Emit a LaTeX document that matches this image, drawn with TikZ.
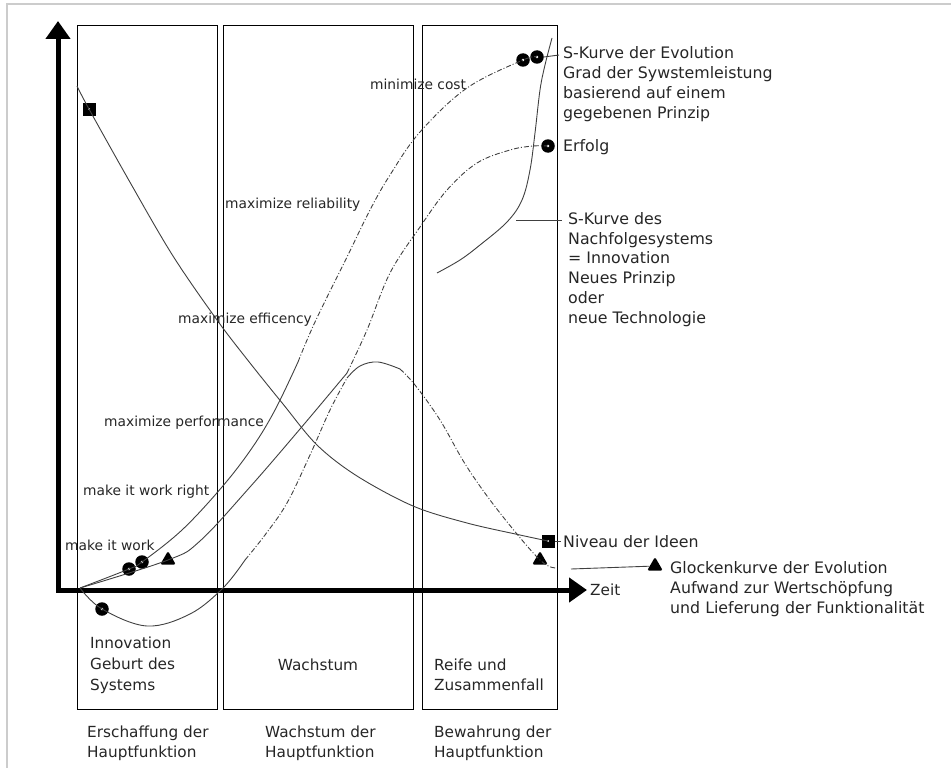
\documentclass[tikz,border=0pt]{standalone}
\usepackage{fontspec}
\setmainfont{DejaVu Sans}
\usetikzlibrary{arrows.meta,shapes.geometric}

\begin{document}
\begin{tikzpicture}[x=1pt,y=-1pt,
    phase/.style={draw, line width=1pt},
    axis/.style={line width=5pt, line cap=rect, -{Triangle[length=18pt,width=24pt]}},
    curve/.style={line width=0.9pt, black!75},
    dcurve/.style={curve, dash pattern=on 5pt off 2pt on 1pt off 2pt},
    ring/.style={circle, fill=black, inner sep=0pt, minimum size=13.5pt,
        path picture={\fill[white] (path picture bounding box.center) circle (1.4pt);}},
    tri/.style={regular polygon, regular polygon sides=3, fill=black, inner sep=0pt, minimum size=18pt, rounded corners=1.5pt},
    sq/.style={rectangle, fill=black, inner sep=0pt, minimum size=13pt,
        path picture={\fill[white] (path picture bounding box.center) circle (1pt);}},
    big/.style={font=\fontsize{15.8}{19.7}\selectfont, align=left, inner sep=0pt, text=black!85, anchor=base west},
    low/.style={font=\fontsize{15.3}{20}\selectfont, align=left, inner sep=0pt, text=black!85, anchor=base west},
    small/.style={font=\fontsize{13.8}{17}\selectfont, inner sep=0pt, text=black!85, anchor=base west}]
    \useasboundingbox (0,0) rectangle (951,768);
    \draw[black!20, line width=1.5pt] (7,768) -- (7,4) -- (951,4);

    % three phases
    \draw[phase] (77,26) rectangle (217,709);
    \draw[phase] (223,26) rectangle (413,709);
    \draw[phase] (422,26) rectangle (557,709);

    % axes
    \coordinate (O) at (58,590);
    \coordinate (ytip) at (58,21);
    \coordinate (xtip) at (587,590);
    \draw[axis] (O) -- (ytip);
    \draw[axis] (O) -- (xtip);
    \node[low] (zeit) at (590,595) {Zeit};

    % markers
    \node[ring] (c1) at (129,569) {};
    \node[ring] (c2) at (142,562) {};
    \node[ring] (c3) at (523,60) {};
    \node[ring] (c4) at (537,57) {};
    \node[ring] (erf) at (548,146) {};
    \node[ring] (b0) at (102,609) {};
    \node[tri] (t1) at (168,560) {};
    \node[tri] (t2) at (540,560) {};
    \node[tri] (t3) at (655,566) {};
    \node[sq] (s1) at (89,109) {};
    \node[sq] (s2) at (548,541) {};

    % S-Kurve der Evolution
    \draw[curve] plot[smooth, tension=0.6] coordinates {(80,588) (c1.center) (c2.center) (182,530) (222,487) (252,448) (275,410) (298,362)};
    \draw[dcurve] plot[smooth, tension=0.6] coordinates {(298,362) (315,322) (347,257) (370,210) (390,175) (420,132) (467,88) (c3.center) (c4.center)};
    % Erfolg
    \draw[curve] plot[smooth, tension=0.6] coordinates {(80,588) (t1.center) (200,541) (250,487) (300,429) (347,373)};
    \draw[dcurve] plot[smooth, tension=0.6] coordinates {(347,373) (367,330) (390,273) (420,227) (447,190) (477,163) (510,150) (533,146) (erf.center)};
    % Glockenkurve
    \draw[curve] plot[smooth, tension=0.6] coordinates {(80,588) (b0.center) (147,626) (190,614) (223,588) (245,560)};
    \draw[dcurve] plot[smooth, tension=0.6] coordinates {(245,560) (265,535) (287,503) (310,455) (330,410) (347,378)};
    \draw[curve] plot[smooth, tension=0.6] coordinates {(347,378) (360,366) (378,362) (400,369)};
    \draw[dcurve] plot[smooth, tension=0.6] coordinates {(400,369) (415,385) (440,420) (467,467) (500,513) (t2.center) (557,568)};
    % Niveau der Ideen
    \draw[curve] plot[smooth, tension=0.55] coordinates {(77,86) (s1.center) (131,184) (173,256) (217,320) (250,363) (283,404) (317,445) (357,476) (413,506) (467,523) (520,535) (s2.center)};
    % Nachfolgesystem
    \draw[curve] plot[smooth, tension=0.6] coordinates {(437,273) (460,260) (480,245) (507,222) (522,200) (530,170) (535,133) (540,90) (545,65) (552,38)};

    % labels on the curve
    \node[small] (work) at (65,550) {make it work};
    \node[small] (right) at (83,495) {make it work right};
    \node[small] (perf) at (104,426) {maximize performance};
    \node[small] (eff) at (178,323) {maximize efficency};
    \node[small] (rel) at (225,208) {maximize reliability};
    \node[small] (cost) at (370,89) {minimize cost};

    % legend (base = last line)
    \node[big] (evo) at (563,118) {S-Kurve der Evolution\\Grad der Sywstemleistung\\basierend auf einem\\gegebenen Prinzip};
    \node[big] (erfolg) at (563,151) {Erfolg};
    \node[big] (nach) at (568,323) {S-Kurve des\\Nachfolgesystems\\= Innovation\\Neues Prinzip\\oder\\neue Technologie};
    \node[big] (niveau) at (563,547) {Niveau der Ideen};
    \node[big] (glocke) at (670,613) {Glockenkurve der Evolution\\Aufwand zur Wertschöpfung\\und Lieferung der Funktionalität};
    \coordinate (nachend) at (516,220);
    \coordinate (glockend) at (571,569);
    \draw[curve] (c4.east) -- (559,55);
    \draw[curve] (s2.east) -- (561,541);
    \draw[curve] (nachend) -- (562,220);
    \draw[curve] (glockend) -- (t3);

    % phases
    \node[low, font=\fontsize{15.3}{21}\selectfont] (inno) at (90,690) {Innovation\\Geburt des\\Systems};
    \node[low, anchor=base] (wachs) at (318,670) {Wachstum};
    \node[low] (reife) at (434,690) {Reife und\\Zusammenfall};
    \node[low] (ersch) at (87,757) {Erschaffung der\\Hauptfunktion};
    \node[low] (wachsh) at (265,757) {Wachstum der\\Hauptfunktion};
    \node[low] (bew) at (434,757) {Bewahrung der\\Hauptfunktion};
\end{tikzpicture}
\end{document}
